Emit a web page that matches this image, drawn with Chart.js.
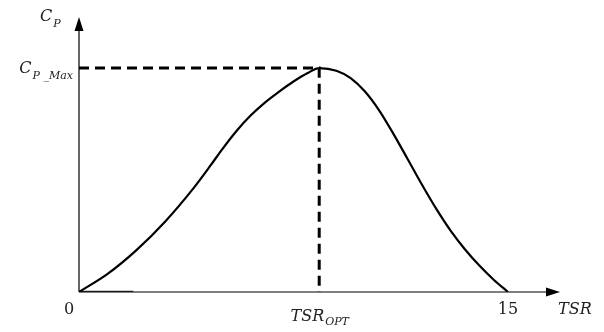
<!DOCTYPE html>
<html>
<head>
<meta charset="utf-8">
<script src="https://cdn.jsdelivr.net/npm/chart.js@4/dist/chart.umd.min.js"></script>
<style>
    body { margin: 0; background: #fff; }
    canvas { display: block; }
</style>
</head>
<body>
<canvas id="cpChart" width="604" height="332"></canvas>
<script>
// Curva Cp - TSR (valores normalizados, Cp_max = 1)
const tsrValues = [0, 1, 2, 3, 4, 4.6, 5, 5.5, 6, 6.5, 7, 7.5, 8, 8.4,
    9, 9.5, 10, 10.5, 11, 11.5, 12, 12.5, 13, 13.5, 14, 14.5, 15];
const cpValues = [0, 0.081, 0.186, 0.313, 0.463, 0.565, 0.636, 0.718, 0.788, 0.846, 0.895, 0.94, 0.978, 1.0,
    0.988, 0.955, 0.895, 0.81, 0.705, 0.592, 0.478, 0.37, 0.273, 0.19, 0.118, 0.055, 0];

const tsrOpt = 8.4;
const cpMax = 1.0;
const tsrEnd = 15;

// Tramo grueso sobre el eje horizontal
const baseTsr = [0, 1.9];
const baseCp = [0, 0];

const xMax = 16.82;
const yMax = 1.228;

function toPoints(xs, ys) {
    return xs.map((x, i) => ({ x: x, y: ys[i] }));
}

// Texto con subíndice
function drawSub(ctx, main, sub, x, y, align, size, subSize, drop) {
    ctx.font = 'italic ' + size + 'px "DejaVu Serif"';
    const w1 = ctx.measureText(main).width;
    ctx.font = 'italic ' + subSize + 'px "DejaVu Serif"';
    const w2 = ctx.measureText(sub).width;
    let left = x;
    if (align === 'center') left = x - (w1 + w2) / 2;
    if (align === 'right') left = x - (w1 + w2);
    ctx.textAlign = 'left';
    ctx.font = 'italic ' + size + 'px "DejaVu Serif"';
    ctx.fillText(main, left, y);
    ctx.font = 'italic ' + subSize + 'px "DejaVu Serif"';
    ctx.fillText(sub, left + w1 + 1, y + drop);
}

// Ejes con flechas y rótulos
const axesPlugin = {
    id: 'axesPlugin',
    afterDatasetsDraw(chart) {
        const ctx = chart.ctx;
        const xs = chart.scales.x;
        const ys = chart.scales.y;
        const x0 = xs.getPixelForValue(0);
        const y0 = ys.getPixelForValue(0);
        const xEnd = xs.getPixelForValue(xMax);
        const yTop = ys.getPixelForValue(yMax);

        ctx.save();
        ctx.strokeStyle = '#000';
        ctx.fillStyle = '#000';
        ctx.lineWidth = 1.2;
        ctx.beginPath();
        ctx.moveTo(x0, y0);
        ctx.lineTo(xEnd - 12, y0);
        ctx.moveTo(x0, y0);
        ctx.lineTo(x0, yTop + 12);
        ctx.stroke();

        // flecha eje x
        ctx.beginPath();
        ctx.moveTo(xEnd, y0);
        ctx.lineTo(xEnd - 14, y0 - 4.5);
        ctx.lineTo(xEnd - 14, y0 + 4.5);
        ctx.closePath();
        ctx.fill();

        // flecha eje y
        ctx.beginPath();
        ctx.moveTo(x0, yTop);
        ctx.lineTo(x0 - 4.5, yTop + 14);
        ctx.lineTo(x0 + 4.5, yTop + 14);
        ctx.closePath();
        ctx.fill();

        ctx.fillStyle = '#222';
        ctx.textBaseline = 'alphabetic';
        ctx.font = '16px "DejaVu Serif"';
        ctx.textAlign = 'center';
        ctx.fillText('0', x0 - 10, y0 + 22);
        ctx.fillText('15', xs.getPixelForValue(tsrEnd), y0 + 22);

        ctx.font = 'italic 16px "DejaVu Serif"';
        ctx.textAlign = 'left';
        ctx.fillText('TSR', xEnd - 2, y0 + 22);

        drawSub(ctx, 'TSR', 'OPT', xs.getPixelForValue(tsrOpt), y0 + 29, 'center', 16, 11, 4);
        drawSub(ctx, 'C', 'P', x0 - 39, yTop + 4, 'left', 16, 11, 6);
        drawSub(ctx, 'C', 'P _Max', x0 - 7, ys.getPixelForValue(cpMax) + 5, 'right', 16, 11, 6);
        ctx.restore();
    }
};

new Chart(document.getElementById('cpChart').getContext('2d'), {
    type: 'line',
    data: {
        datasets: [{
            label: 'Cp',
            data: toPoints(tsrValues, cpValues),
            borderColor: '#000',
            borderWidth: 2.2,
            pointRadius: 0,
            cubicInterpolationMode: 'monotone',
            fill: false
        }, {
            label: 'Cp max',
            data: [{ x: 0, y: cpMax }, { x: tsrOpt, y: cpMax }, { x: tsrOpt, y: 0 }],
            borderColor: '#000',
            borderWidth: 3,
            borderDash: [10, 6],
            pointRadius: 0,
            tension: 0
        }, {
            label: 'base',
            data: toPoints(baseTsr, baseCp),
            borderColor: '#333',
            borderWidth: 2.5,
            pointRadius: 0,
            tension: 0
        }]
    },
    options: {
        responsive: false,
        animation: false,
        layout: { padding: { left: 79, right: 44, top: 17, bottom: 40 } },
        plugins: {
            legend: { display: false },
            tooltip: { enabled: false }
        },
        scales: {
            x: { type: 'linear', min: 0, max: xMax, display: false },
            y: { type: 'linear', min: 0, max: yMax, display: false }
        }
    },
    plugins: [axesPlugin]
});
</script>
</body>
</html>
